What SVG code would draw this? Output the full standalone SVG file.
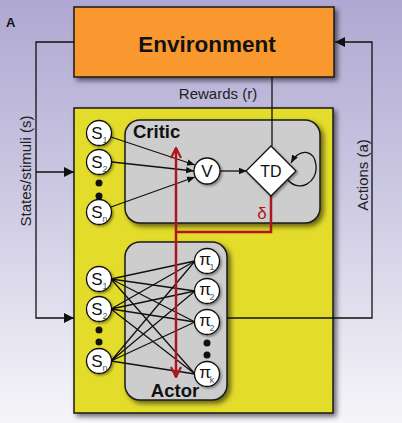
<svg xmlns="http://www.w3.org/2000/svg" width="402" height="423" viewBox="0 0 402 423">
<defs>
<linearGradient id="bg" x1="0" y1="0" x2="0" y2="1">
<stop offset="0" stop-color="#afa8d2"/>
<stop offset="0.5" stop-color="#cfcce4"/>
<stop offset="1" stop-color="#f6f6f9"/>
</linearGradient>
<filter id="sh" x="-10%" y="-10%" width="130%" height="130%">
<feDropShadow dx="3" dy="3" stdDeviation="2.5" flood-color="#000" flood-opacity="0.55"/>
</filter>
<filter id="shs" x="-30%" y="-30%" width="160%" height="160%">
<feDropShadow dx="1.5" dy="1.5" stdDeviation="1" flood-color="#000" flood-opacity="0.4"/>
</filter>
<marker id="ah" viewBox="0 0 10 10" refX="10" refY="5" markerWidth="10" markerHeight="10" markerUnits="userSpaceOnUse" orient="auto">
<path d="M0,0 L10,5 L0,10 z" fill="#111"/>
</marker>
<marker id="ahs" viewBox="0 0 10 10" refX="10" refY="5" markerWidth="8" markerHeight="8" markerUnits="userSpaceOnUse" orient="auto">
<path d="M0,1 L10,5 L0,9 z" fill="#111"/>
</marker>
<marker id="ahr" viewBox="0 0 12 12" refX="11" refY="6" markerWidth="12" markerHeight="12" markerUnits="userSpaceOnUse" orient="auto-start-reverse">
<path d="M1,1 L11,6 L1,11" fill="none" stroke="#b0141e" stroke-width="2.2"/>
</marker>
</defs>
<style>
.t{font-family:"Liberation Sans",Arial,sans-serif;}
.b{font-weight:bold;}
.box{stroke:#1a1a1a;stroke-width:1.5;}
.ln{fill:none;stroke:#111;stroke-width:1.3;}
.red{fill:none;stroke:#b0141e;stroke-width:2.5;}
.nd{fill:#fff;stroke:#111;stroke-width:1.3;}
.s{font-family:"Liberation Sans",Arial,sans-serif;font-size:17px;fill:#111;text-anchor:middle;}
.sub{font-family:"Liberation Sans",Arial,sans-serif;font-size:9px;fill:#555;text-anchor:middle;}
.lbl{font-family:"Liberation Sans",Arial,sans-serif;font-size:15px;fill:#222;text-anchor:middle;}
</style>
<rect x="0" y="0" width="402" height="423" fill="url(#bg)"/>
<text class="t b" x="6" y="27" font-size="13" fill="#111">A</text>

<g id="environment">
<rect class="box" x="74" y="7" width="260" height="70" fill="#f8982d" filter="url(#sh)"/>
<text class="t b" x="207" y="52" font-size="22.5" text-anchor="middle" fill="#111">Environment</text>
</g>

<g id="agent">
<rect class="box" x="74" y="108" width="259" height="305" fill="#e3dc2b" filter="url(#sh)"/>
</g>

<g id="critic">
<rect class="box" x="125" y="120" width="195" height="103" rx="15" fill="#cdcdcd" filter="url(#sh)"/>
<text class="t b" x="133" y="138" font-size="18.5" fill="#111">Critic</text>
</g>

<g id="actor">
<rect class="box" x="125" y="242" width="102" height="158" rx="15" fill="#cdcdcd" filter="url(#sh)"/>
<text class="t b" x="175" y="397" font-size="18.5" text-anchor="middle" fill="#111">Actor</text>
</g>

<g id="connectors">
<path class="ln" d="M74,42 H36 V318 H74" marker-end="url(#ah)"/>
<path class="ln" d="M36,172 H74" marker-end="url(#ah)"/>
<path class="ln" d="M227,318 H372 V42 H335" marker-end="url(#ah)"/>
<path class="ln" d="M272,77 V146"/>
<path class="ln" d="M111,137 L195,165" marker-end="url(#ahs)"/>
<path class="ln" d="M112,162 L194,171" marker-end="url(#ahs)"/>
<path class="ln" d="M111,207 L195,177" marker-end="url(#ahs)"/>
<path class="ln" d="M220,171 H247" marker-end="url(#ahs)"/>
<path class="ln" d="M288,180 C299,193 318,183 316,165 C314,150 300,147 291,163" marker-end="url(#ahs)"/>
<g class="ln">
<path d="M111,279 L195,261 M111,279 L195,291 M111,279 L195,322 M111,279 L195,374"/>
<path d="M111,309 L195,261 M111,309 L195,291 M111,309 L195,322 M111,309 L195,374"/>
<path d="M111,361 L195,261 M111,361 L195,291 M111,361 L195,322 M111,361 L195,374"/>
</g>
<path class="red" d="M271,196 V232 H176"/>
<path class="red" d="M176,148 V377" marker-start="url(#ahr)" marker-end="url(#ahr)"/>
<text class="t" x="262" y="219" font-size="17" fill="#b0141e" text-anchor="middle">δ</text>
<text class="lbl" x="218" y="99" text-anchor="middle">Rewards (r)</text>
<text class="lbl" transform="translate(31,171) rotate(-90)">States/stimuli (s)</text>
<text class="lbl" transform="translate(368,175) rotate(-90)">Actions (a)</text>
</g>

<g id="critic-s1"><circle class="nd" cx="99" cy="133" r="12.5" filter="url(#shs)"/><text class="s" x="97" y="139">S</text><text class="sub" x="105" y="143">1</text></g>
<g id="critic-s2"><circle class="nd" cx="99" cy="162" r="12.5" filter="url(#shs)"/><text class="s" x="97" y="168">S</text><text class="sub" x="105" y="172">2</text></g>
<g id="critic-dots"><circle cx="99" cy="183" r="3.5" fill="#111"/><circle cx="99" cy="196" r="3.5" fill="#111"/></g>
<g id="critic-sn"><circle class="nd" cx="99" cy="212" r="12.5" filter="url(#shs)"/><text class="s" x="97" y="218">S</text><text class="sub" x="105" y="222">n</text></g>

<g id="V"><circle class="nd" cx="207" cy="171" r="13" filter="url(#shs)"/><text class="t" x="207" y="177" font-size="17" text-anchor="middle" fill="#111">V</text></g>
<g id="TD"><path class="nd" d="M271,146 L296,171 L271,196 L246,171 z" filter="url(#shs)"/><text class="t" x="271" y="177" font-size="16" text-anchor="middle" fill="#111">TD</text></g>

<g id="actor-s1"><circle class="nd" cx="99" cy="279" r="12.5" filter="url(#shs)"/><text class="s" x="97" y="285">S</text><text class="sub" x="105" y="289">1</text></g>
<g id="actor-s2"><circle class="nd" cx="99" cy="309" r="12.5" filter="url(#shs)"/><text class="s" x="97" y="315">S</text><text class="sub" x="105" y="319">2</text></g>
<g id="actor-dots"><circle cx="99" cy="330" r="3.5" fill="#111"/><circle cx="99" cy="342" r="3.5" fill="#111"/></g>
<g id="actor-sn"><circle class="nd" cx="99" cy="361" r="12.5" filter="url(#shs)"/><text class="s" x="97" y="367">S</text><text class="sub" x="105" y="371">n</text></g>

<g id="pi1"><circle class="nd" cx="207" cy="261" r="12.5" filter="url(#shs)"/><text class="s" x="205" y="265">π</text><text class="sub" x="212" y="270">1</text></g>
<g id="pi2"><circle class="nd" cx="207" cy="291" r="12.5" filter="url(#shs)"/><text class="s" x="205" y="295">π</text><text class="sub" x="212" y="300">2</text></g>
<g id="pi3"><circle class="nd" cx="207" cy="322" r="12.5" filter="url(#shs)"/><text class="s" x="205" y="326">π</text><text class="sub" x="212" y="331">2</text></g>
<g id="pi-dots"><circle cx="207" cy="343" r="3.5" fill="#111"/><circle cx="207" cy="355" r="3.5" fill="#111"/></g>
<g id="pik"><circle class="nd" cx="207" cy="374" r="12.5" filter="url(#shs)"/><text class="s" x="205" y="378">π</text><text class="sub" x="212" y="383">k</text></g>
</svg>
